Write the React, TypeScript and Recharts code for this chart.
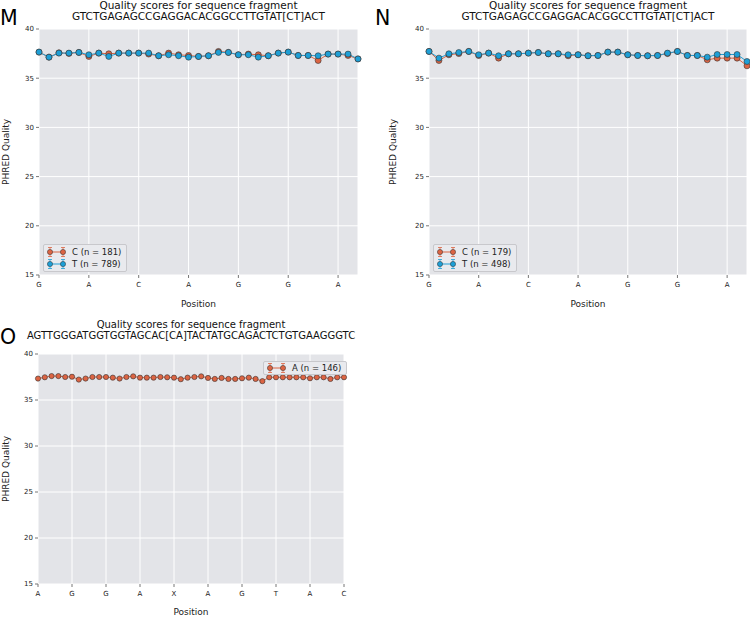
import React from "react";
import { LineChart, Line, XAxis, YAxis, CartesianGrid, Legend } from "recharts";

// sequences shown in the titles
const mSeq = "GTCTGAGAGCCGAGGACACGGCCTTGTAT[CT]ACT";
const nSeq = "GTCTGAGAGCCGAGGACACGGCCTTGTAT[CT]ACT";
const oSeq = "AGTTGGGATGGTGGTAGCAC[CA]TACTATGCAGACTCTGTGAAGGGTC";

// tick labels (every 5th position)
const mTickLabels = ["G", "A", "C", "A", "G", "G", "A"];
const nTickLabels = ["G", "A", "C", "A", "G", "G", "A"];
const oTickLabels = ["A", "G", "G", "A", "X", "A", "G", "T", "A", "C"];

const yTicks = [15, 20, 25, 30, 35, 40];

// panel M
const mC = [37.65, 37.14, 37.58, 37.52, 37.62, 37.21, 37.55, 37.48, 37.55, 37.55, 37.55, 37.45, 37.28, 37.55, 37.38, 37.31, 37.21, 37.28, 37.72, 37.62, 37.38, 37.45, 37.38, 37.28, 37.55, 37.65, 37.31, 37.31, 36.8, 37.45, 37.45, 37.31, 36.96];
const mT = [37.65, 37.14, 37.55, 37.55, 37.62, 37.38, 37.55, 37.21, 37.55, 37.55, 37.55, 37.55, 37.28, 37.38, 37.28, 37.14, 37.21, 37.28, 37.62, 37.62, 37.38, 37.38, 37.14, 37.28, 37.55, 37.65, 37.31, 37.31, 37.28, 37.45, 37.45, 37.45, 36.96];

// panel N
const nC = [37.72, 36.8, 37.38, 37.5, 37.72, 37.3, 37.55, 37.04, 37.48, 37.48, 37.55, 37.61, 37.48, 37.48, 37.28, 37.38, 37.28, 37.31, 37.65, 37.65, 37.38, 37.31, 37.28, 37.31, 37.5, 37.72, 37.31, 37.31, 36.87, 37.04, 37.04, 37.04, 36.26];
const nT = [37.72, 37.04, 37.48, 37.61, 37.72, 37.38, 37.55, 37.28, 37.48, 37.48, 37.55, 37.61, 37.48, 37.48, 37.38, 37.38, 37.28, 37.31, 37.65, 37.65, 37.38, 37.31, 37.28, 37.31, 37.55, 37.72, 37.31, 37.31, 37.14, 37.41, 37.41, 37.41, 36.7];

// panel O
const oA = [37.33, 37.47, 37.6, 37.6, 37.5, 37.53, 37.22, 37.33, 37.5, 37.5, 37.5, 37.43, 37.33, 37.5, 37.57, 37.43, 37.43, 37.43, 37.5, 37.47, 37.43, 37.26, 37.43, 37.5, 37.57, 37.4, 37.29, 37.4, 37.29, 37.29, 37.36, 37.43, 37.29, 37.05, 37.47, 37.47, 37.47, 37.47, 37.47, 37.47, 37.36, 37.47, 37.47, 37.29, 37.47, 37.47];

const mLegend = ["C (n = 181)", "T (n = 789)"];
const nLegend = ["C (n = 179)", "T (n = 498)"];
const oLegend = ["A (n = 146)"];

const RED = "#dc6443";
const BLUE = "#1e9fd6";
const FONT = "'DejaVu Sans', sans-serif";
const BG = "#e3e4e8";

const YTitle = ({ viewBox, dx }: any) => {
  const cx = viewBox.x + dx;
  const cy = viewBox.y + viewBox.height / 2;
  return (
    <text x={cx} y={cy} transform={`rotate(-90 ${cx} ${cy})`} textAnchor="middle" dominantBaseline="central" fontSize={9} fill="#222" fontFamily={FONT}>
      PHRED Quality
    </text>
  );
};

const XTitle = ({ viewBox, dy }: any) => {
  const cx = viewBox.x + viewBox.width / 2;
  return (
    <text x={cx} y={viewBox.y + dy} textAnchor="middle" dominantBaseline="central" fontSize={9} fill="#222" fontFamily={FONT}>
      Position
    </text>
  );
};

function LegendBox({ items, rowH, padV }: { items: { label: string; color: string }[]; rowH: number; padV: number }) {
  return (
    <div style={{ background: "#e9eaee", border: "1px solid #c8c8cc", borderRadius: 2, padding: `${padV}px 5px ${padV}px 3px`, fontFamily: FONT, fontSize: 8.5, color: "#222" }}>
      {items.map((it) => (
        <div key={it.label} style={{ display: "flex", alignItems: "center", height: rowH }}>
          <svg width={20} height={12}>
            <line x1={3} x2={16} y1={6} y2={6} stroke={it.color} strokeWidth={1} />
            {[3, 16].map((x) => (
              <g key={x}>
                <line x1={x} x2={x} y1={1.5} y2={10.5} stroke={it.color} strokeWidth={0.8} />
                <line x1={x - 2} x2={x + 2} y1={1.5} y2={1.5} stroke={it.color} strokeWidth={0.8} />
                <line x1={x - 2} x2={x + 2} y1={10.5} y2={10.5} stroke={it.color} strokeWidth={0.8} />
                <circle cx={x} cy={6} r={2.6} fill={it.color} stroke="#333" strokeWidth={0.5} />
              </g>
            ))}
          </svg>
          <span style={{ marginLeft: 5, whiteSpace: "nowrap" }}>{it.label}</span>
        </div>
      ))}
    </div>
  );
}

type PanelProps = {
  left: number;
  top: number;
  width: number;
  height: number;
  margin: { top: number; right: number; bottom: number; left: number };
  letter: string;
  seq: string;
  series: { key: string; values: number[]; color: string; label: string }[];
  tickLabels: string[];
  legendPos: { left: number; top: number };
  legendRowH: number;
  legendPadV: number;
  dotR: number;
  yTitleDx: number;
  xTitleDy: number;
  titleSize: number;
  letterTop: number;
};

function Panel(p: PanelProps) {
  const n = p.series[0].values.length;
  const rows = p.series[0].values.map((_, i) => {
    const r: any = { pos: i };
    p.series.forEach((s) => (r[s.key] = s.values[i]));
    return r;
  });
  const xTicks = p.tickLabels.map((_, i) => i * 5);
  const plotLeft = p.margin.left + 30;
  const plotRight = p.width - p.margin.right;
  const tickStyle = { fontSize: 7, fill: "#222", fontFamily: FONT };
  return (
    <div style={{ position: "absolute", left: p.left, top: p.top, width: p.width, height: p.height }}>
      <div style={{ position: "absolute", left: 0, top: p.letterTop, fontFamily: FONT, fontSize: 20.5, lineHeight: "24px", color: "#000" }}>{p.letter}</div>
      <div style={{ position: "absolute", left: plotLeft - 60, width: plotRight - plotLeft + 120, top: 0, textAlign: "center", fontFamily: FONT, fontSize: p.titleSize, lineHeight: "10.5px", color: "#111" }}>
        <div>Quality scores for sequence fragment</div>
        <div>{p.seq}</div>
      </div>
      <LineChart width={p.width} height={p.height} data={rows} margin={p.margin} style={{ position: "absolute", left: 0, top: 0 }}>
        <CartesianGrid fill={BG} stroke="#ffffff" strokeWidth={1} />
        <XAxis
          dataKey="pos"
          type="number"
          domain={[0, n - 1]}
          ticks={xTicks}
          tickFormatter={(v: number) => p.tickLabels[v / 5]}
          tick={tickStyle}
          tickSize={3}
          tickMargin={4}
          tickLine={{ stroke: "#777" }}
          axisLine={false}
          height={40}
          label={<XTitle dy={p.xTitleDy} />}
        />
        <XAxis xAxisId="top" orientation="top" type="number" domain={[0, n - 1]} ticks={xTicks} tickFormatter={() => ""} tickSize={3} tickLine={{ stroke: "#777" }} axisLine={false} height={0} />
        <YAxis
          domain={[15, 40]}
          ticks={yTicks}
          tick={tickStyle}
          tickSize={3}
          tickLine={{ stroke: "#777" }}
          axisLine={false}
          width={30}
          label={<YTitle dx={p.yTitleDx} />}
        />
        <YAxis yAxisId="right" orientation="right" domain={[15, 40]} ticks={yTicks} tickFormatter={() => ""} tickSize={3} tickLine={{ stroke: "#777" }} axisLine={false} width={0} />
        <Legend
          verticalAlign="middle"
          align="center"
          wrapperStyle={{ left: p.legendPos.left, top: p.legendPos.top, width: "auto" }}
          content={() => <LegendBox rowH={p.legendRowH} padV={p.legendPadV} items={p.series.map((s) => ({ label: s.label, color: s.color }))} />}
        />
        {p.series.map((s) => (
          <Line
            key={s.key}
            dataKey={s.key}
            type="linear"
            stroke={s.color}
            strokeWidth={1}
            dot={{ r: p.dotR, fill: s.color, stroke: "#333", strokeWidth: 0.6 }}
            activeDot={false}
            isAnimationActive={false}
          />
        ))}
      </LineChart>
    </div>
  );
}

export default function App() {
  return (
    <div style={{ position: "absolute", left: 0, top: 0, width: 750, height: 626, background: "#fff" }}>
      <Panel
        left={0}
        top={0}
        width={375}
        height={320}
        margin={{ top: 29, right: 17, bottom: 5, left: 9 }}
        letter="M"
        seq={mSeq}
        series={[
          { key: "c", values: mC, color: RED, label: mLegend[0] },
          { key: "t", values: mT, color: BLUE, label: mLegend[1] },
        ]}
        tickLabels={mTickLabels}
        legendPos={{ left: 43, top: 244 }}
        legendRowH={12}
        legendPadV={1}
        dotR={3}
        yTitleDx={-3}
        xTitleDy={29}
        titleSize={10.5}
        letterTop={6}
      />
      <Panel
        left={375}
        top={0}
        width={375}
        height={320}
        margin={{ top: 29, right: 3, bottom: 5, left: 24 }}
        letter="N"
        seq={nSeq}
        series={[
          { key: "c", values: nC, color: RED, label: nLegend[0] },
          { key: "t", values: nT, color: BLUE, label: nLegend[1] },
        ]}
        tickLabels={nTickLabels}
        legendPos={{ left: 58, top: 244 }}
        legendRowH={12}
        legendPadV={1}
        dotR={3}
        yTitleDx={-6}
        xTitleDy={29}
        titleSize={10.5}
        letterTop={6}
      />
      <Panel
        left={0}
        top={320}
        width={375}
        height={306}
        margin={{ top: 34, right: 31, bottom: 2, left: 8 }}
        letter="O"
        seq={oSeq}
        series={[{ key: "a", values: oA, color: RED, label: oLegend[0] }]}
        tickLabels={oTickLabels}
        legendPos={{ left: 263, top: 41 }}
        legendRowH={12}
        legendPadV={0}
        dotR={2.6}
        yTitleDx={-2}
        xTitleDy={28}
        titleSize={10}
        letterTop={5}
      />
    </div>
  );
}
